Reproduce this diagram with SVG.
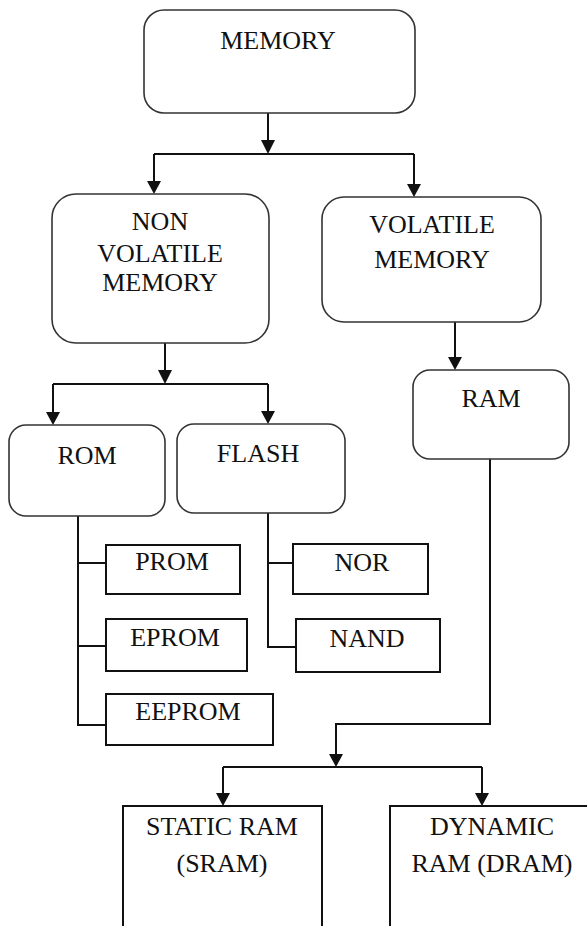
<svg xmlns="http://www.w3.org/2000/svg" width="587" height="926" viewBox="0 0 587 926">
  <style>
    .rbox { fill: #fff; stroke: #333; stroke-width: 1.6; }
    .sbox { fill: #fff; stroke: #111; stroke-width: 2; }
    .lbl { font-family: "Liberation Serif", "Times New Roman", serif; font-size: 26px; fill: #111; text-anchor: middle; }
    .wire { fill: none; stroke: #111; stroke-width: 2; }
    .head { fill: #111; }
  </style>
  <rect width="587" height="926" fill="#fff"/>

  <g id="connectors">
    <!-- memory splits into non-volatile / volatile -->
    <path class="wire" d="M268,113 V140"/>
    <polygon class="head" points="261,140 275,140 268,154"/>
    <path class="wire" d="M154,154 H414"/>
    <path class="wire" d="M154,154 V182"/>
    <polygon class="head" points="147,181 161,181 154,194"/>
    <path class="wire" d="M414,154 V184"/>
    <polygon class="head" points="407,184 421,184 414,197"/>

    <!-- non-volatile splits into rom / flash -->
    <path class="wire" d="M165,343 V371"/>
    <polygon class="head" points="158,370 172,370 165,384"/>
    <path class="wire" d="M53,384 H268"/>
    <path class="wire" d="M53,384 V413"/>
    <polygon class="head" points="46,412 60,412 53,425"/>
    <path class="wire" d="M268,384 V412"/>
    <polygon class="head" points="261,411 275,411 268,424"/>

    <!-- volatile to ram -->
    <path class="wire" d="M455,322 V358"/>
    <polygon class="head" points="448,357 462,357 455,370"/>

    <!-- rom tree -->
    <path class="wire" d="M78,516 V725 H106 M78,563 H106 M78,646 H106"/>

    <!-- flash tree -->
    <path class="wire" d="M268,513 V647 H296 M268,563 H293"/>

    <!-- ram splits into sram / dram -->
    <path class="wire" d="M490,459 V724 H336 V755"/>
    <polygon class="head" points="329,754 343,754 336,767"/>
    <path class="wire" d="M223,767 H482"/>
    <path class="wire" d="M223,767 V794"/>
    <polygon class="head" points="216,793 230,793 223,806"/>
    <path class="wire" d="M482,767 V794"/>
    <polygon class="head" points="475,793 489,793 482,806"/>
  </g>

  <g id="memory">
    <rect class="rbox" x="144" y="10" width="271" height="103" rx="20"/>
    <text class="lbl" x="278" y="49">MEMORY</text>
  </g>

  <g id="non-volatile">
    <rect class="rbox" x="52" y="194" width="217" height="149" rx="24"/>
    <text class="lbl" x="160" y="230">NON</text>
    <text class="lbl" x="160" y="262">VOLATILE</text>
    <text class="lbl" x="160" y="291">MEMORY</text>
  </g>

  <g id="volatile">
    <rect class="rbox" x="322" y="197" width="219" height="125" rx="22"/>
    <text class="lbl" x="432" y="233">VOLATILE</text>
    <text class="lbl" x="432" y="268">MEMORY</text>
  </g>

  <g id="ram">
    <rect class="rbox" x="413" y="370" width="156" height="89" rx="17"/>
    <text class="lbl" x="491" y="407">RAM</text>
  </g>

  <g id="rom">
    <rect class="rbox" x="9" y="425" width="156" height="91" rx="17"/>
    <text class="lbl" x="87" y="464">ROM</text>
  </g>

  <g id="flash">
    <rect class="rbox" x="177" y="424" width="168" height="89" rx="17"/>
    <text class="lbl" x="258" y="462">FLASH</text>
  </g>

  <g id="prom">
    <rect class="sbox" x="106" y="545" width="134" height="49"/>
    <text class="lbl" x="172" y="570">PROM</text>
  </g>

  <g id="eprom">
    <rect class="sbox" x="106" y="619" width="141" height="52"/>
    <text class="lbl" x="175" y="646">EPROM</text>
  </g>

  <g id="eeprom">
    <rect class="sbox" x="106" y="694" width="167" height="51"/>
    <text class="lbl" x="188" y="720">EEPROM</text>
  </g>

  <g id="nor">
    <rect class="sbox" x="293" y="544" width="135" height="50"/>
    <text class="lbl" x="362" y="571">NOR</text>
  </g>

  <g id="nand">
    <rect class="sbox" x="296" y="619" width="144" height="53"/>
    <text class="lbl" x="367" y="647">NAND</text>
  </g>

  <g id="sram">
    <rect class="sbox" x="123" y="806" width="199" height="140"/>
    <text class="lbl" x="222" y="835">STATIC RAM</text>
    <text class="lbl" x="222" y="872">(SRAM)</text>
  </g>

  <g id="dram">
    <rect class="sbox" x="390" y="806" width="220" height="140"/>
    <text class="lbl" x="492" y="835">DYNAMIC</text>
    <text class="lbl" x="492" y="872">RAM (DRAM)</text>
  </g>
</svg>
